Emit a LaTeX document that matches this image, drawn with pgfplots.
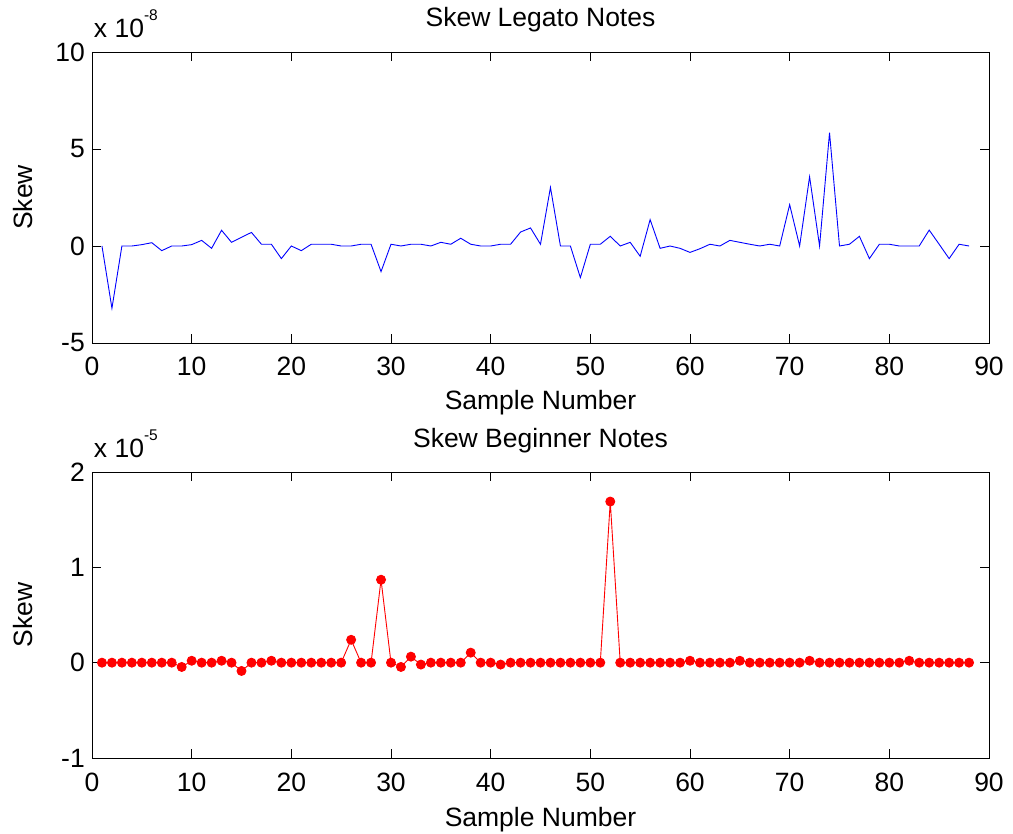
\documentclass[border=0pt]{standalone}
\usepackage{fontspec}
\setmainfont{Liberation Sans}
\usepackage{pgfplots}
\usepackage{pgfplotstable}
\pgfplotsset{compat=1.18}

\pgfplotstableread{
x y
1 0
2 -3.21
3 0
4 0
5 0.07
6 0.17
7 -0.24
8 0
9 0
10 0.07
11 0.29
12 -0.12
13 0.81
14 0.19
15 0.45
16 0.70
17 0.09
18 0.09
19 -0.65
20 0
21 -0.24
22 0.09
23 0.09
24 0.09
25 0
26 0
27 0.09
28 0.09
29 -1.32
30 0.09
31 0
32 0.09
33 0.09
34 0
35 0.19
36 0.09
37 0.40
38 0.09
39 0
40 0
41 0.09
42 0.09
43 0.72
44 0.93
45 0.09
46 3.02
47 0
48 0
49 -1.63
50 0.09
51 0.09
52 0.50
53 0
54 0.19
55 -0.53
56 1.36
57 -0.12
58 0
59 -0.12
60 -0.33
61 -0.14
62 0.09
63 0
64 0.29
65 0.19
66 0.09
67 0
68 0.09
69 0
70 2.13
71 0
72 3.57
73 0
74 5.84
75 0
76 0.09
77 0.50
78 -0.65
79 0.09
80 0.09
81 0
82 0
83 0
84 0.82
85 0.09
86 -0.65
87 0.09
88 0
}\legato

\pgfplotstableread{
x y
1 0
2 0
3 0
4 0
5 0
6 0
7 0
8 0
9 -0.045
10 0.02
11 0
12 0
13 0.02
14 0
15 -0.087
16 0
17 0
18 0.02
19 0
20 0
21 0
22 0
23 0
24 0
25 0
26 0.24
27 0
28 0
29 0.87
30 0
31 -0.045
32 0.063
33 -0.02
34 0
35 0
36 0
37 0
38 0.105
39 0
40 0
41 -0.02
42 0
43 0
44 0
45 0
46 0
47 0
48 0
49 0
50 0
51 0
52 1.69
53 0
54 0
55 0
56 0
57 0
58 0
59 0
60 0.02
61 0
62 0
63 0
64 0
65 0.02
66 0
67 0
68 0
69 0
70 0
71 0
72 0.02
73 0
74 0
75 0
76 0
77 0
78 0
79 0
80 0
81 0
82 0.02
83 0
84 0
85 0
86 0
87 0
88 0
}\beginner

\pgfplotsset{
  matlab/.style={
    scale only axis,
    width=897pt,
    xmin=0, xmax=90,
    xtick={0,10,...,90},
    tick align=inside,
    major tick length=9pt,
    xtick pos=both, ytick pos=both,
    axis line style={black, line width=0.8pt},
    every tick/.style={black, line width=0.8pt},
    /pgf/number format/assume math mode=true,
    font=\fontsize{26.5}{31}\selectfont,
    xticklabel style={anchor=base, yshift=-33pt, inner sep=0pt},
    yticklabel style={anchor=east, inner sep=0pt, xshift=-7pt},
    xlabel={Sample Number},
    ylabel={Skew},
    title style={anchor=base, inner sep=0pt},
    xlabel style={anchor=base, inner sep=0pt},
    ylabel style={anchor=base, inner sep=0pt, rotate=0},
    scaled ticks=false,
    clip mode=individual,
  }
}

\begin{document}
\begin{tikzpicture}
\path[use as bounding box] (0pt,0pt) rectangle (1013pt,-834pt);
\begin{axis}[matlab,
  at={(92pt,-52pt)}, anchor=north west,
  height=291pt,
  ymin=-5, ymax=10,
  ytick={-5,0,5,10},
  title={Skew Legato Notes},
  title style={at={(0.5,1.0653)}},
  xlabel style={at={(0.5,-0.2302)}},
  ylabel style={at={(-0.0658,0.5)}},
]
\addplot[blue, line width=0.9pt, mark=none] table[x=x,y=y] {\legato};
\node[anchor=base west, inner sep=0pt] at (rel axis cs:0.002,1.0515) {x 10\raisebox{17pt}{\fontsize{15.5}{15.5}\selectfont -8}};
\end{axis}

\begin{axis}[matlab,
  at={(92pt,-472pt)}, anchor=north west,
  height=286pt,
  ymin=-1, ymax=2,
  ytick={-1,0,1,2},
  title={Skew Beginner Notes},
  title style={at={(0.5,1.063)}},
  xlabel style={at={(0.5,-0.2378)}},
  ylabel style={at={(-0.0658,0.5)}},
]
\addplot[red, line width=0.9pt, mark=*, mark size=4.5pt, mark options={fill=red, draw=red}] table[x=x,y=y] {\beginner};
\node[anchor=base west, inner sep=0pt] at (rel axis cs:0.002,1.0524) {x 10\raisebox{17pt}{\fontsize{15.5}{15.5}\selectfont -5}};
\end{axis}
\end{tikzpicture}
\end{document}
